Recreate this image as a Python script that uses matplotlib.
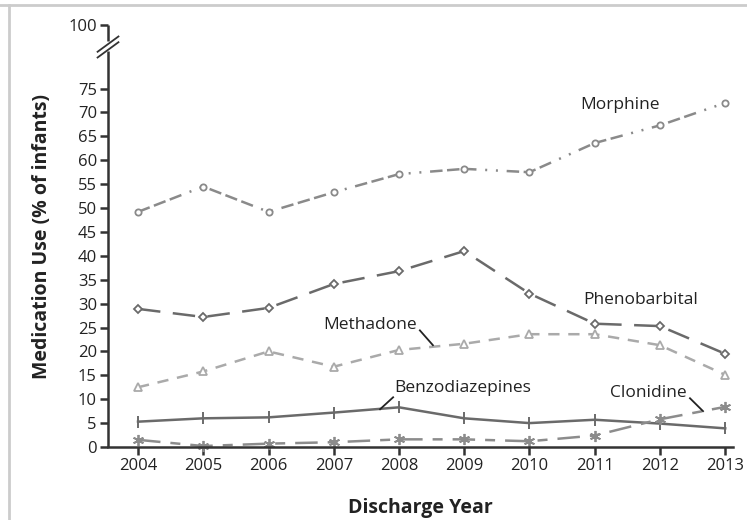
import matplotlib.pyplot as plt
from matplotlib.lines import Line2D

# Medication use by discharge year (% of infants)
years = [2004, 2005, 2006, 2007, 2008, 2009, 2010, 2011, 2012, 2013]
morphine = [49.2, 54.5, 49.2, 53.3, 57.1, 58.2, 57.5, 63.6, 67.3, 72.0]
phenobarbital = [28.9, 27.2, 29.1, 34.1, 36.8, 41.0, 32.1, 25.8, 25.3, 19.5]
methadone = [12.5, 15.8, 20.0, 16.8, 20.3, 21.6, 23.6, 23.6, 21.3, 15.1]
benzodiazepines = [5.3, 6.0, 6.2, 7.2, 8.3, 6.0, 5.0, 5.7, 4.9, 3.9]
clonidine = [1.5, 0.2, 0.7, 1.0, 1.6, 1.6, 1.2, 2.4, 5.8, 8.4]

y_ticks = list(range(0, 80, 5))
x_ticks = years
# the 100 tick sits above the axis break
top_val = 88.3
break_val = 83.6

plt.rcParams['font.family'] = ['Open Sans', 'DejaVu Sans']
fig = plt.figure(figsize=(7.47, 5.2), dpi=100)
ax = fig.add_axes([0.1446, 0.1404, 0.9813 - 0.1446, 0.9519 - 0.1404])

lw = 1.8
ax.plot(years, morphine, color='#8a8a8a', lw=lw, dashes=(5, 1.8, 5, 1.8, 5, 3.5, 0.8, 3.5, 0.8, 3.5),
        marker='o', ms=4.5, mfc='white', mew=1.3, clip_on=False)
ax.plot(years, phenobarbital, color='#6a6a6a', lw=lw, dashes=(9, 5),
        marker='D', ms=4.5, mfc='white', mew=1.3, clip_on=False)
ax.plot(years, methadone, color='#aaaaaa', lw=lw, dashes=(4.5, 3.5),
        marker='^', ms=5.5, mfc='white', mew=1.3, clip_on=False)
ax.plot(years, benzodiazepines, color='#6a6a6a', lw=lw,
        marker='|', ms=9, mew=1.4, clip_on=False)
ax.plot(years, clonidine, color='#8c8c8c', lw=lw, dashes=(9, 4, 4, 4),
        marker=(6, 2, 0), ms=8, mew=1.3, clip_on=False)

ax.set_xlim(2003.54, 2013.12)
ax.set_ylim(0, top_val)
ax.set_xticks(x_ticks)
ax.set_xticklabels([str(y) for y in x_ticks])
ax.set_yticks(y_ticks + [top_val])
ax.set_yticklabels([str(v) for v in y_ticks] + ['100'])

for s in ['top', 'right', 'left']:
    ax.spines[s].set_visible(False)
ax.spines['bottom'].set_linewidth(1.8)
ax.spines['bottom'].set_color('#333333')
ax.tick_params(axis='both', direction='out', length=6, width=1.8, color='#333333',
               labelsize=12, labelcolor='#222222', pad=2)

# left axis line with a break
ax.plot([2003.54, 2003.54], [0, break_val - 0.8], color='#333333', lw=1.8,
        clip_on=False, solid_capstyle='butt')
ax.plot([2003.54, 2003.54], [break_val + 1.3, top_val], color='#333333', lw=1.8,
        clip_on=False, solid_capstyle='butt')
for off in (-0.5, 0.7):
    ax.plot([2003.38, 2003.70], [break_val + off - 1.6, break_val + off + 1.6],
            color='#333333', lw=1.3, clip_on=False)

ax.set_xlabel('Discharge Year', fontsize=14, fontweight='bold', color='#222222', labelpad=17)
ax.set_ylabel('Medication Use (% of infants)', fontsize=14, fontweight='bold',
              color='#222222')
ax.yaxis.set_label_coords(-0.09, 0.5)

tkw = dict(fontsize=12.5, color='#222222', ha='center', va='center')
ax.text(2011.39, 71.6, 'Morphine', **tkw)
ax.text(2011.70, 30.8, 'Phenobarbital', **tkw)
ax.text(2007.56, 25.6, 'Methadone', **tkw)
ax.text(2008.97, 12.4, 'Benzodiazepines', **tkw)
ax.text(2011.82, 11.4, 'Clonidine', **tkw)

lkw = dict(color='#222222', lw=1.3, clip_on=False)
ax.plot([2008.32, 2008.52], [24.4, 21.3], **lkw)
ax.plot([2007.91, 2007.71], [10.4, 7.9], **lkw)
ax.plot([2012.46, 2012.66], [10.2, 7.5], **lkw)

# light frame at top and left
fig.add_artist(Line2D([0, 1], [1 - 5 / 520, 1 - 5 / 520], color='#cccccc', lw=2))
fig.add_artist(Line2D([9 / 747, 9 / 747], [0, 1 - 5 / 520], color='#cccccc', lw=2))

fig.savefig('out.png', dpi=100)
